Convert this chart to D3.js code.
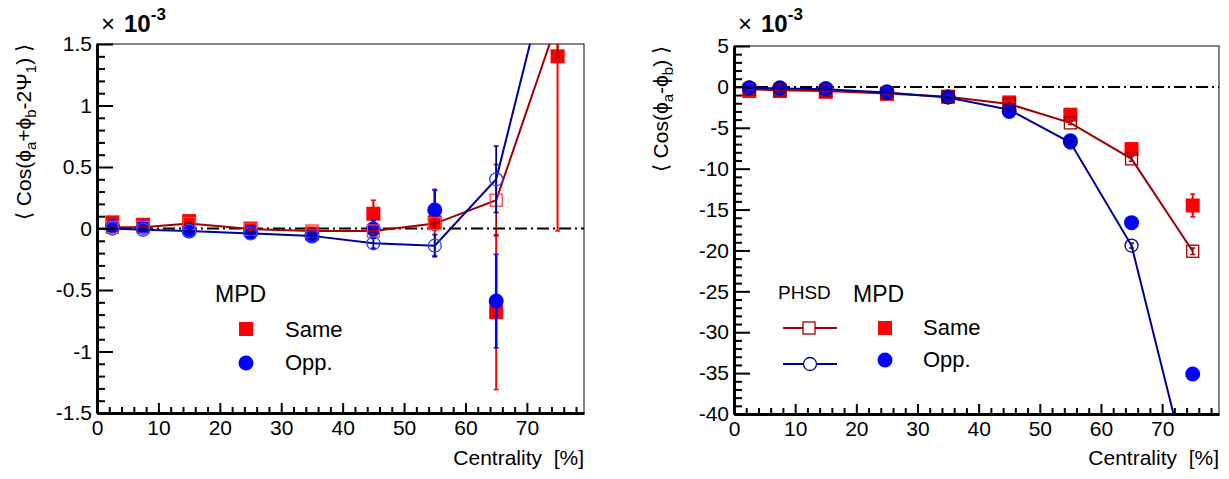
<!DOCTYPE html>
<html><head><meta charset="utf-8">
<script src="https://cdn.jsdelivr.net/npm/d3@7/dist/d3.min.js"></script>
<style>body{margin:0;background:#fff}svg{display:block;font-family:"Liberation Sans",Arial,sans-serif}</style>
</head><body><svg id="c" width="1229" height="479"></svg>
<script>
// ---------- data ----------
const centrality = [2.5, 7.5, 15, 25, 35, 45, 55, 65, 75];
const xTicks = [0, 10, 20, 30, 40, 50, 60, 70];
const yTicksL = [-1.5, -1, -0.5, 0, 0.5, 1, 1.5];
const yTicksR = [-40, -35, -30, -25, -20, -15, -10, -5, 0, 5];

// left panel: <cos(phi_a+phi_b-2Psi_1)> x 1e-3
const mpdSameL    = [0.05, 0.03, 0.06, 0.0, -0.04, 0.12, 0.05, -0.68, 1.40];
const mpdSameErrL = [0.02, 0.02, 0.02, 0.02, 0.03, 0.11, 0.27, 0.63, 1.42];
const mpdOppL     = [0.02, 0.01, -0.02, -0.03, -0.06, -0.005, 0.15, -0.59, null];
const mpdOppErrL  = [0.02, 0.02, 0.02, 0.02, 0.03, 0.07, 0.16, 0.38, null];
const phsdSameL    = [0.01, 0.01, 0.04, -0.005, -0.02, -0.02, 0.04, 0.23, 1.69];
const phsdSameErrL = [0.01, 0.01, 0.01, 0.01, 0.02, 0.03, 0.05, 0.29, 0.3];
const phsdOppL     = [0.0, -0.01, -0.02, -0.04, -0.06, -0.12, -0.14, 0.40, 2.4];
const phsdOppErrL  = [0.01, 0.01, 0.01, 0.01, 0.02, 0.04, 0.09, 0.27, 0.3];

// right panel: <cos(phi_a-phi_b)> x 1e-3
const mpdSameR    = [-0.5, -0.5, -0.6, -0.85, -1.2, -1.9, -3.4, -7.6, -14.5];
const mpdSameErrR = [0.1, 0.1, 0.1, 0.1, 0.15, 0.2, 0.3, 0.5, 1.4];
const mpdOppR     = [-0.1, -0.1, -0.2, -0.6, -1.2, -3.0, -6.6, -16.6, -35.1];
const mpdOppErrR  = [0.1, 0.1, 0.1, 0.1, 0.15, 0.2, 0.3, 0.4, 0.6];
const phsdSameR    = [-0.3, -0.4, -0.5, -0.8, -1.2, -2.1, -4.4, -8.8, -20.1];
const phsdSameErrR = [0.05, 0.05, 0.05, 0.05, 0.1, 0.1, 0.2, 0.3, 0.4];
const phsdOppR     = [-0.1, -0.2, -0.3, -0.7, -1.3, -2.8, -6.8, -19.4, -49.4];
const phsdOppErrR  = [0.05, 0.05, 0.05, 0.05, 0.1, 0.1, 0.2, 0.3, 0.4];

// ---------- drawing ----------
const svg = d3.select("#c");
const RED = "#ff0000", BLUE = "#0000ff", DRED = "#a00000", DBLUE = "#000099";
const FS = 21;

function panel(cfg) {
  const x = d3.scaleLinear().domain([0, 79.3]).range([cfg.x0, cfg.x1]);
  const y = d3.scaleLinear().domain(cfg.ydom).range([cfg.y1, cfg.y0]);
  const g = svg.append("g");
  const clipId = "clip" + cfg.id;
  svg.append("clipPath").attr("id", clipId).append("rect")
    .attr("x", cfg.x0).attr("y", cfg.y0).attr("width", cfg.x1 - cfg.x0).attr("height", cfg.y1 - cfg.y0);

  g.append("rect").attr("x", cfg.x0).attr("y", cfg.y0).attr("width", cfg.x1 - cfg.x0).attr("height", cfg.y1 - cfg.y0)
    .attr("fill", "none").attr("stroke", "#333").attr("stroke-width", 1.2);

  const data = g.append("g").attr("clip-path", `url(#${clipId})`);
  data.append("line").attr("x1", cfg.x0).attr("x2", cfg.x1).attr("y1", y(0)).attr("y2", y(0))
    .attr("stroke", "#000").attr("stroke-width", 2).attr("stroke-dasharray", "12,4,2,4");

  function errs(vals, errsArr, color, w) {
    centrality.forEach((c, i) => {
      if (vals[i] == null || errsArr[i] == null) return;
      const cx = x(c), ylo = y(vals[i] - errsArr[i]), yhi = y(vals[i] + errsArr[i]);
      data.append("line").attr("x1", cx).attr("x2", cx).attr("y1", ylo).attr("y2", yhi).attr("stroke", color).attr("stroke-width", w);
      [ylo, yhi].forEach(yy => data.append("line").attr("x1", cx - 2.5).attr("x2", cx + 2.5).attr("y1", yy).attr("y2", yy).attr("stroke", color).attr("stroke-width", 1.5));
    });
  }
  function squares(vals, color, filled, size) {
    centrality.forEach((c, i) => {
      if (vals[i] == null) return;
      data.append("rect").attr("x", x(c) - size / 2).attr("y", y(vals[i]) - size / 2).attr("width", size).attr("height", size)
        .attr("fill", filled ? color : "none").attr("stroke", color).attr("stroke-width", filled ? 0 : 1.3);
    });
  }
  function circles(vals, color, filled, r) {
    centrality.forEach((c, i) => {
      if (vals[i] == null) return;
      data.append("circle").attr("cx", x(c)).attr("cy", y(vals[i])).attr("r", r)
        .attr("fill", filled ? color : "none").attr("stroke", color).attr("stroke-width", filled ? 0 : 1.3);
    });
  }
  const line = d3.line().x((d, i) => x(centrality[i])).y(d => y(d));

  errs(cfg.mpdSame, cfg.mpdSameErr, RED, 2);
  squares(cfg.mpdSame, RED, true, 14);
  errs(cfg.mpdOpp, cfg.mpdOppErr, BLUE, 2.5);
  circles(cfg.mpdOpp, BLUE, true, 7.5);
  errs(cfg.phsdSame, cfg.phsdSameErr, DRED, 1.8);
  data.append("path").attr("d", line(cfg.phsdSame)).attr("fill", "none").attr("stroke", DRED).attr("stroke-width", 2);
  squares(cfg.phsdSame, cfg.openSqColor, false, 12);
  errs(cfg.phsdOpp, cfg.phsdOppErr, DBLUE, 1.8);
  data.append("path").attr("d", line(cfg.phsdOpp)).attr("fill", "none").attr("stroke", DBLUE).attr("stroke-width", 2);
  circles(cfg.phsdOpp, cfg.openCiColor, false, 6.5);

  const fmt = v => String(v);
  const minorX = d3.range(0, 79.3, 2).filter(v => v % 10 !== 0);
  const yStep = cfg.ydom[1] - cfg.ydom[0] > 10 ? 1 : 0.1;
  const minorY = d3.range(0, Math.round((cfg.ydom[1] - cfg.ydom[0]) / yStep) + 1).map(k => +(cfg.ydom[0] + k * yStep).toFixed(3))
    .filter(v => !cfg.yTicks.some(t => Math.abs(t - v) < 1e-6));

  g.append("g").attr("transform", `translate(0,${cfg.y1})`)
    .call(d3.axisBottom(x).tickValues(xTicks).tickFormat(fmt).tickSize(-10).tickSizeOuter(0).tickPadding(7));
  g.append("g").attr("transform", `translate(0,${cfg.y1})`)
    .call(d3.axisBottom(x).tickValues(minorX).tickFormat("").tickSize(-6).tickSizeOuter(0))
    .select(".domain").remove();
  g.append("g").attr("transform", `translate(${cfg.x0},0)`)
    .call(d3.axisLeft(y).tickValues(cfg.yTicks).tickFormat(fmt).tickSize(-16).tickSizeOuter(0).tickPadding(5));
  g.append("g").attr("transform", `translate(${cfg.x0},0)`)
    .call(d3.axisLeft(y).tickValues(minorY).tickFormat("").tickSize(-8).tickSizeOuter(0))
    .select(".domain").remove();
  g.selectAll(".tick line").attr("stroke", "#000").attr("stroke-width", 2);
  g.selectAll(".domain").attr("stroke", "#000").attr("stroke-width", 3);
  g.selectAll(".tick text").attr("font-family", '"Liberation Sans",Arial,sans-serif').attr("font-size", FS).attr("fill", "#000");

  g.append("text").attr("x", cfg.x1).attr("y", 465).attr("text-anchor", "end").attr("font-size", FS)
    .attr("xml:space", "preserve").style("white-space", "pre")
    .text("Centrality  [%]");

  const yt = g.append("text").attr("transform", `translate(${cfg.x0 - 66},${cfg.y0}) rotate(-90)`)
    .attr("text-anchor", "end").attr("font-size", FS);
  cfg.yTitle.forEach(p => {
    const t = yt.append("tspan").text(p.t);
    if (p.sub) t.attr("font-size", 15).attr("dy", 5);
    if (p.up) t.attr("dy", -5);
  });

  const m = g.append("text").attr("x", cfg.x0 + 4).attr("y", 32).attr("font-size", 24);
  m.append("tspan").text("×");
  m.append("tspan").attr("font-weight", "bold").attr("dx", 9).text("10");
  m.append("tspan").attr("font-weight", "bold").attr("font-size", 17).attr("dy", -12).text("-3");
  return { x, y };
}

const phi = "\u03D5";
panel({
  id: "L", x0: 97, x1: 584, y0: 44, y1: 413, ydom: [-1.5, 1.5], yTicks: yTicksL,
  mpdSame: mpdSameL, mpdSameErr: mpdSameErrL, mpdOpp: mpdOppL, mpdOppErr: mpdOppErrL,
  phsdSame: phsdSameL, phsdSameErr: phsdSameErrL, phsdOpp: phsdOppL, phsdOppErr: phsdOppErrL,
  openSqColor: "#ff4040", openCiColor: "#3040ff",
  yTitle: [{ t: "\u27E8 Cos(" + phi }, { t: "a", sub: 1 }, { t: "+" + phi, up: 1 }, { t: "b", sub: 1 }, { t: "-2\u03A8", up: 1 }, { t: "1", sub: 1 }, { t: ") \u27E9", up: 1 }]
});
panel({
  id: "R", x0: 734, x1: 1219, y0: 46, y1: 414, ydom: [-40, 5], yTicks: yTicksR,
  mpdSame: mpdSameR, mpdSameErr: mpdSameErrR, mpdOpp: mpdOppR, mpdOppErr: mpdOppErrR,
  phsdSame: phsdSameR, phsdSameErr: phsdSameErrR, phsdOpp: phsdOppR, phsdOppErr: phsdOppErrR,
  openSqColor: DRED, openCiColor: DBLUE,
  yTitle: [{ t: "\u27E8 Cos(" + phi }, { t: "a", sub: 1 }, { t: "-" + phi, up: 1 }, { t: "b", sub: 1 }, { t: ") \u27E9", up: 1 }]
});

// ---------- legends ----------
const lg = svg.append("g");
lg.append("text").attr("x", 215).attr("y", 302).attr("font-size", 23).text("MPD");
lg.append("rect").attr("x", 239).attr("y", 322).attr("width", 14).attr("height", 14).attr("fill", RED);
lg.append("text").attr("x", 285).attr("y", 337).attr("font-size", 22).text("Same");
lg.append("circle").attr("cx", 246).attr("cy", 363).attr("r", 7.5).attr("fill", BLUE);
lg.append("text").attr("x", 285).attr("y", 370).attr("font-size", 22).text("Opp.");
lg.append("text").attr("x", 778).attr("y", 299).attr("font-size", 19).text("PHSD");
lg.append("text").attr("x", 853).attr("y", 302).attr("font-size", 23).text("MPD");
lg.append("line").attr("x1", 783).attr("x2", 837).attr("y1", 328).attr("y2", 328).attr("stroke", DRED).attr("stroke-width", 2);
lg.append("rect").attr("x", 803).attr("y", 322).attr("width", 12).attr("height", 12).attr("fill", "#fff").attr("stroke", DRED).attr("stroke-width", 1.3);
lg.append("line").attr("x1", 783).attr("x2", 837).attr("y1", 364).attr("y2", 364).attr("stroke", DBLUE).attr("stroke-width", 2);
lg.append("circle").attr("cx", 810).attr("cy", 364).attr("r", 6.5).attr("fill", "#fff").attr("stroke", DBLUE).attr("stroke-width", 1.3);
lg.append("rect").attr("x", 878).attr("y", 321).attr("width", 14).attr("height", 14).attr("fill", RED);
lg.append("text").attr("x", 923).attr("y", 335).attr("font-size", 22).text("Same");
lg.append("circle").attr("cx", 885).attr("cy", 360).attr("r", 7.5).attr("fill", BLUE);
lg.append("text").attr("x", 923).attr("y", 367).attr("font-size", 22).text("Opp.");
</script></body></html>
